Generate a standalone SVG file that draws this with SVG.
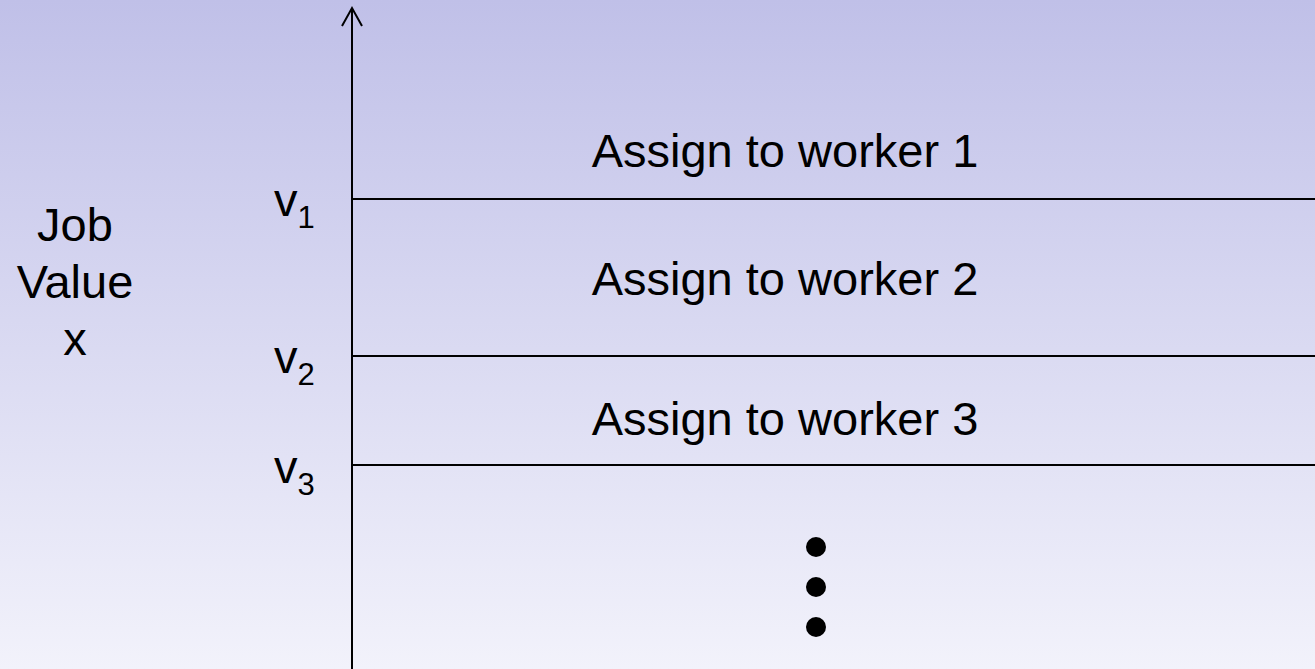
<svg xmlns="http://www.w3.org/2000/svg" width="1315" height="669" viewBox="0 0 1315 669">
  <defs>
    <linearGradient id="bg" x1="0" y1="0" x2="0" y2="1">
      <stop offset="0" stop-color="#c0c0e8"/>
      <stop offset="1" stop-color="#f2f2fb"/>
    </linearGradient>
    <style>
      .t { font-family: "Liberation Sans", Arial, sans-serif; font-size: 47px; fill: #000; }
      .sub { font-size: 31px; }
      .ln { stroke: #000; stroke-width: 2; fill: none; }
    </style>
  </defs>
  <rect width="1315" height="669" fill="url(#bg)"/>

  <!-- axis and band boundaries -->
  <g id="connectors">
    <line class="ln" x1="352" y1="8" x2="352" y2="669"/>
    <polyline class="ln" points="342,26 352,8 362,26"/>
    <line class="ln" x1="352" y1="199" x2="1315" y2="199"/>
    <line class="ln" x1="352" y1="356" x2="1315" y2="356"/>
    <line class="ln" x1="352" y1="465" x2="1315" y2="465"/>
  </g>

  <g id="axis-label">
    <text class="t" x="75" y="241" text-anchor="middle">Job</text>
    <text class="t" x="75" y="298" text-anchor="middle">Value</text>
    <text class="t" x="75" y="355" text-anchor="middle">x</text>
  </g>

  <g id="thresholds">
    <text class="t" x="274" y="216">v<tspan class="sub" dy="12">1</tspan></text>
    <text class="t" x="274" y="373">v<tspan class="sub" dy="12">2</tspan></text>
    <text class="t" x="274" y="483">v<tspan class="sub" dy="12">3</tspan></text>
  </g>

  <g id="band-1"><text class="t" x="785" y="167" text-anchor="middle">Assign to worker 1</text></g>
  <g id="band-2"><text class="t" x="785" y="295" text-anchor="middle">Assign to worker 2</text></g>
  <g id="band-3"><text class="t" x="785" y="435" text-anchor="middle">Assign to worker 3</text></g>

  <g id="ellipsis" fill="#000">
    <circle cx="816" cy="547" r="10"/>
    <circle cx="816" cy="587" r="10"/>
    <circle cx="816" cy="627" r="10"/>
  </g>
</svg>
